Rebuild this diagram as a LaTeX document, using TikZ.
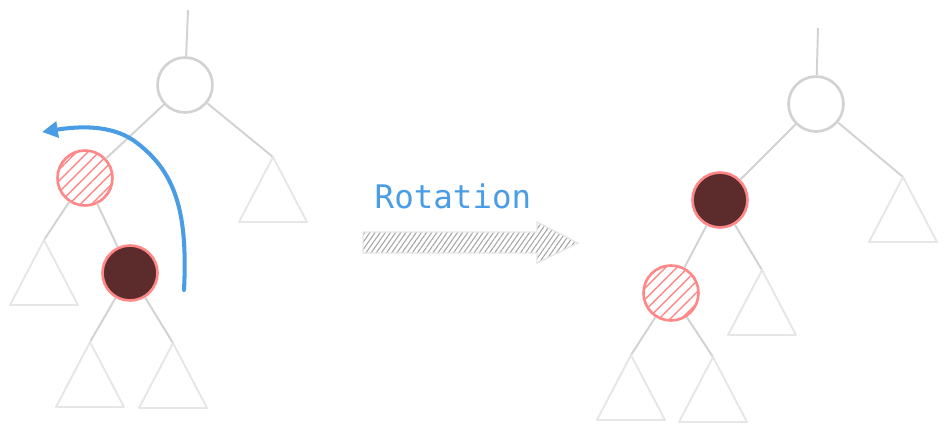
\documentclass[tikz,border=0pt]{standalone}
\usepackage{fontspec}
\newfontfamily\codefont{DejaVu Sans Mono}
\usetikzlibrary{arrows.meta,patterns.meta}
\definecolor{edgegray}{HTML}{D2D2D2}
\definecolor{trigray}{HTML}{E6E6E6}
\definecolor{redline}{HTML}{FF8787}
\definecolor{darkred}{HTML}{5C2C2C}
\definecolor{rotblue}{HTML}{4A9DE5}
\definecolor{hatchgray}{HTML}{A5A5A5}

\begin{document}
\begin{tikzpicture}[x=0.02cm, y=-0.02cm,
	plain/.style={circle, draw=edgegray, line width=1.5pt, minimum size=1.1cm, inner sep=0pt},
	hatched/.style={plain, draw=redline, pattern={Lines[angle=45,distance=4.5pt,line width=0.8pt]}, pattern color=redline},
	dark/.style={plain, draw=redline, fill=darkred},
	link/.style={draw=edgegray, line width=1.1pt},
	tri/.style={draw=trigray, line width=1.1pt, line join=round}]
		\useasboundingbox (0,0) rectangle (948,430);
		% before
		\coordinate (lt) at (188,10);
		\node[plain] (lr) at (185,85){};
		\node[hatched] (lh) at (85,178){};
		\node[dark] (ld) at (130,273){};
		\coordinate (l1) at (273,157);
		\coordinate (l2) at (44,240);
		\coordinate (l3) at (90,342);
		\coordinate (l4) at (173,343);
		
		\path[link] (lt) edge (lr);
		\path[link] (lr) edge (l1);
		\path[link] (lr) edge (lh);
		\path[link] (lh) edge (l2);
		\path[link] (lh) edge (ld);
		\path[link] (ld) edge (l3);
		\path[link] (ld) edge (l4);
		
		% after
		\coordinate (rt) at (818,28);
		\node[plain] (rr) at (816,104){};
		\node[dark] (rd) at (720,200){};
		\node[hatched] (rh) at (671,293){};
		\coordinate (r1) at (903,177);
		\coordinate (r2) at (762,270);
		\coordinate (r3) at (631,355);
		\coordinate (r4) at (713,357);
		
		\path[link] (rt) edge (rr);
		\path[link] (rr) edge (rd);
		\path[link] (rr) edge (r1);
		\path[link] (rd) edge (rh);
		\path[link] (rd) edge (r2);
		\path[link] (rh) edge (r3);
		\path[link] (rh) edge (r4);
		
		\foreach \t in {l1,l2,l3,l4,r1,r2,r3,r4}
			\draw[tri] (\t) -- ++(-34,65) -- ++(68,0) -- cycle;
		
		% rotation arrow
		\coordinate (s) at (184,290);
		\coordinate (m) at (133,140);
		\coordinate (e) at (42,132);
		\draw[rotblue, line width=2.3pt, line cap=round, -{Triangle[length=9pt,width=9pt]}] (s) .. controls (188,210) and (175,170) .. (m) .. controls (110,125) and (80,126) .. (e);
		
		\node[text=rotblue, font=\codefont\fontsize{18.5}{20}\selectfont] (rot) at (453,196){Rotation};
		\draw[draw=trigray, line width=0.8pt, pattern={Lines[angle=55,distance=2.4pt,line width=0.6pt]}, pattern color=hatchgray]
			(363,232) -- (537,232) -- (537,222) -- (578,243) -- (537,263) -- (537,253) -- (363,253) -- cycle;
		\end{tikzpicture}
\end{document}
